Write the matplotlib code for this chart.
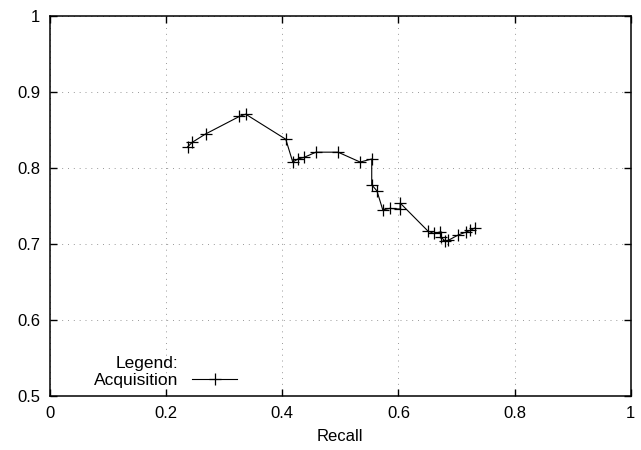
import matplotlib
matplotlib.use("Agg")
import matplotlib.pyplot as plt
from matplotlib.lines import Line2D

# -- Data
recall = [0.237, 0.245, 0.268, 0.326, 0.337, 0.406, 0.418, 0.427, 0.437,
          0.458, 0.496, 0.534, 0.554, 0.554, 0.563, 0.573, 0.585, 0.603,
          0.603, 0.651, 0.661, 0.672, 0.674, 0.680, 0.686, 0.703, 0.717,
          0.724, 0.731]
precision = [0.828, 0.834, 0.845, 0.868, 0.871, 0.838, 0.808, 0.812, 0.814,
             0.821, 0.821, 0.808, 0.812, 0.778, 0.770, 0.745, 0.747, 0.746,
             0.754, 0.717, 0.714, 0.716, 0.709, 0.704, 0.705, 0.712, 0.716,
             0.718, 0.721]
series_label = "Acquisition"
legend_title = "Legend:"
x_ticks = [0, 0.2, 0.4, 0.6, 0.8, 1]
x_tick_labels = ["0", "0.2", "0.4", "0.6", "0.8", "1"]
y_ticks = [0.5, 0.6, 0.7, 0.8, 0.9, 1]
y_tick_labels = ["0.5", "0.6", "0.7", "0.8", "0.9", "1"]

plt.rcParams["font.family"] = ["Liberation Sans", "DejaVu Sans"]

fig = plt.figure(figsize=(6.41, 4.5), dpi=100)
ax = fig.add_axes([0.078, 0.12, 0.906, 0.844])

line, = ax.plot(recall, precision, color="black", linewidth=0.8,
                marker="+", markersize=8, markeredgewidth=0.9,
                label=series_label)

ax.set_xlim(0, 1)
ax.set_ylim(0.5, 1.0)
ax.set_xticks(x_ticks)
ax.set_xticklabels(x_tick_labels)
ax.set_yticks(y_ticks)
ax.set_yticklabels(y_tick_labels)
ax.tick_params(direction="in", length=5, width=1, top=True, right=True,
               labelsize=12, pad=7)
ax.grid(True, color="#999999", linestyle=(0, (1, 5)), linewidth=0.7)
for s in ax.spines.values():
    s.set_linewidth(1.1)

ax.set_xlabel("Recall", fontsize=12, labelpad=6)

# gnuplot-style key: "Legend:" row right-aligned with the series label
blank = Line2D([], [], linestyle="none", marker="none")
ax.legend([blank, line], [legend_title, series_label],
          loc="lower left", bbox_to_anchor=(0.055, -0.01),
          frameon=False, markerfirst=False, fontsize=12.5,
          handlelength=2.6, borderpad=0.2, labelspacing=0.1,
          handletextpad=0.8)

fig.savefig("out.png", dpi=100)
